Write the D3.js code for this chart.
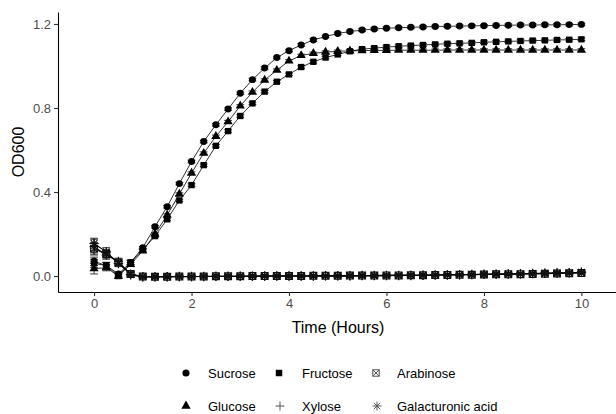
<!DOCTYPE html>
<html>
<head>
<meta charset="utf-8">
<script src="https://cdn.jsdelivr.net/npm/d3@7"></script>
<style>
  body { margin: 0; background: #fff; }
  text { font-family: "Liberation Sans", Arial, sans-serif; }
</style>
</head>
<body>
<svg id="vis" width="616" height="414"></svg>
<script>
// sampling times (hours)
const time = [0, 0.25, 0.5, 0.75, 1, 1.25, 1.5, 1.75, 2, 2.25, 2.5, 2.75, 3, 3.25, 3.5, 3.75,
  4, 4.25, 4.5, 4.75, 5, 5.25, 5.5, 5.75, 6, 6.25, 6.5, 6.75, 7, 7.25, 7.5, 7.75,
  8, 8.25, 8.5, 8.75, 9, 9.25, 9.5, 9.75, 10];

// OD600 per sugar
const sucrose = [0.07, 0.05, 0.01, 0.065, 0.135, 0.235, 0.33, 0.44, 0.545, 0.64, 0.72, 0.795, 0.87, 0.935, 0.99, 1.04,
  1.073, 1.10, 1.124, 1.14, 1.155, 1.164, 1.171, 1.176, 1.18, 1.182, 1.184, 1.186, 1.188, 1.189, 1.19, 1.191,
  1.192, 1.193, 1.194, 1.195, 1.195, 1.196, 1.196, 1.197, 1.198];
const fructose = [0.06, 0.05, 0.0, 0.065, 0.125, 0.19, 0.27, 0.36, 0.433, 0.528, 0.62, 0.69, 0.762, 0.822, 0.878, 0.925,
  0.96, 0.995, 1.02, 1.04, 1.055, 1.07, 1.08, 1.085, 1.09, 1.094, 1.097, 1.10, 1.103, 1.106, 1.108, 1.11,
  1.113, 1.115, 1.117, 1.119, 1.121, 1.122, 1.124, 1.125, 1.127];
const glucose = [0.035, 0.04, 0.0, 0.055, 0.12, 0.2, 0.29, 0.39, 0.49, 0.585, 0.665, 0.735, 0.81, 0.875, 0.933, 0.98,
  1.024, 1.05, 1.06, 1.066, 1.07, 1.072, 1.073, 1.074, 1.074, 1.075, 1.075, 1.075, 1.075, 1.076, 1.076, 1.076,
  1.076, 1.076, 1.076, 1.076, 1.076, 1.076, 1.076, 1.076, 1.076];
const arabinose = [0.13, 0.105, 0.065, 0.01, -0.002, -0.003, -0.003, -0.002, -0.002, -0.002, -0.001, -0.001, -0.001, 0, 0, 0,
  0, 0, 0.001, 0.001, 0.001, 0.002, 0.002, 0.002, 0.003, 0.003, 0.004, 0.004, 0.005, 0.005, 0.006, 0.006,
  0.007, 0.008, 0.008, 0.009, 0.01, 0.011, 0.012, 0.013, 0.014];
const xylose = [0.14, 0.1, 0.07, 0.005, -0.004, -0.004, -0.003, -0.003, -0.003, -0.002, -0.002, -0.002, -0.001, -0.001, -0.001, 0,
  0, 0, 0, 0.001, 0.001, 0.001, 0.002, 0.002, 0.003, 0.003, 0.004, 0.004, 0.005, 0.006, 0.006, 0.007,
  0.008, 0.009, 0.01, 0.011, 0.012, 0.013, 0.015, 0.016, 0.017];
const galacturonic = [0.155, 0.115, 0.06, 0.008, -0.003, -0.003, -0.003, -0.002, -0.002, -0.002, -0.001, -0.001, -0.001, -0.001, 0, 0,
  0, 0, 0, 0.001, 0.001, 0.001, 0.002, 0.002, 0.002, 0.003, 0.003, 0.004, 0.005, 0.005, 0.006, 0.007,
  0.008, 0.009, 0.01, 0.011, 0.012, 0.013, 0.014, 0.016, 0.018];

// standard deviations for the first four readings; later readings use sdLater
const sdSucrose = [0.02, 0.015, 0.01, 0.01];
const sdFructose = [0.02, 0.015, 0.01, 0.01];
const sdGlucose = [0.025, 0.015, 0.01, 0.01];
const sdArabinose = [0.03, 0.02, 0.015, 0.01];
const sdXylose = [0.035, 0.02, 0.015, 0.01];
const sdGalacturonic = [0.025, 0.02, 0.015, 0.01];
const sdLater = 0.006;

const legendNames = ['Sucrose', 'Fructose', 'Arabinose', 'Glucose', 'Xylose', 'Galacturonic acid'];
const xTicks = [0, 2, 4, 6, 8, 10];
const yTicks = [0, 0.4, 0.8, 1.2];

// custom stroke-only shapes
const symPlus = {
  draw(ctx, size) {
    const r = Math.sqrt(size) / 2;
    ctx.moveTo(-r, 0); ctx.lineTo(r, 0);
    ctx.moveTo(0, -r); ctx.lineTo(0, r);
  }
};
const symAsterisk = {
  draw(ctx, size) {
    const r = Math.sqrt(size) / 2;
    for (let a = 0; a < 4; a++) {
      const t = a * Math.PI / 4;
      ctx.moveTo(-r * Math.cos(t), -r * Math.sin(t));
      ctx.lineTo(r * Math.cos(t), r * Math.sin(t));
    }
  }
};
const symSquareCross = {
  draw(ctx, size) {
    const r = Math.sqrt(size) / 2;
    ctx.moveTo(-r, -r); ctx.lineTo(r, -r); ctx.lineTo(r, r); ctx.lineTo(-r, r); ctx.closePath();
    ctx.moveTo(-r, -r); ctx.lineTo(r, r);
    ctx.moveTo(r, -r); ctx.lineTo(-r, r);
  }
};

const series = [
  { name: 'Galacturonic acid', values: galacturonic, sd: sdGalacturonic, shape: symAsterisk, size: 90, fill: false },
  { name: 'Xylose', values: xylose, sd: sdXylose, shape: symPlus, size: 80, fill: false },
  { name: 'Arabinose', values: arabinose, sd: sdArabinose, shape: symSquareCross, size: 46, fill: false },
  { name: 'Fructose', values: fructose, sd: sdFructose, shape: d3.symbolSquare, size: 40, fill: true },
  { name: 'Glucose', values: glucose, sd: sdGlucose, shape: d3.symbolTriangle, size: 36, fill: true },
  { name: 'Sucrose', values: sucrose, sd: sdSucrose, shape: d3.symbolCircle, size: 38, fill: true }
];

const vis = d3.select('#vis');

const x = d3.scaleLinear().domain([-0.74, 10.71]).range([58, 616]);
const y = d3.scaleLinear().domain([-0.076, 1.257]).range([292, 12]);

// axes
const xAxis = vis.append('g')
  .attr('transform', 'translate(0,292)')
  .call(d3.axisBottom(x).tickValues(xTicks).tickSize(4).tickSizeOuter(0).tickPadding(3));
const yAxis = vis.append('g')
  .attr('transform', 'translate(58,0)')
  .call(d3.axisLeft(y).tickValues(yTicks).tickFormat(d3.format('.1f')).tickSize(4).tickSizeOuter(0).tickPadding(3));

[xAxis, yAxis].forEach(g => {
  g.select('.domain').attr('stroke', '#000').attr('stroke-width', 1.1);
  g.selectAll('.tick line').attr('stroke', '#333').attr('stroke-width', 1.1);
  g.selectAll('.tick text').attr('fill', '#4d4d4d').style('font-size', '13px')
    .style('font-family', '"Liberation Sans", Arial, sans-serif');
});

// axis titles
vis.append('text')
  .attr('x', 338).attr('y', 333)
  .attr('text-anchor', 'middle')
  .style('font-size', '16px')
  .text('Time (Hours)');
vis.append('text')
  .attr('transform', 'translate(24,152) rotate(-90)')
  .attr('text-anchor', 'middle')
  .style('font-size', '16px')
  .text('OD600');

const plot = vis.append('g');
const line = d3.line().x((d, i) => x(time[i])).y(d => y(d));
const sdAt = (s, i) => (i < s.sd.length ? s.sd[i] : sdLater);

// lines
series.forEach(s => {
  plot.append('path')
    .datum(s.values)
    .attr('d', line)
    .attr('fill', 'none')
    .attr('stroke', '#000')
    .attr('stroke-width', s.fill ? 0.8 : 1.1);
});

// error bars
const capHalf = (x(0.08) - x(0));
series.forEach(s => {
  const g = plot.append('g').attr('stroke', '#222').attr('stroke-width', 0.9);
  s.values.forEach((v, i) => {
    const e = sdAt(s, i);
    const cx = x(time[i]);
    g.append('line').attr('x1', cx).attr('x2', cx).attr('y1', y(v - e)).attr('y2', y(v + e));
    g.append('line').attr('x1', cx - capHalf).attr('x2', cx + capHalf).attr('y1', y(v + e)).attr('y2', y(v + e));
    g.append('line').attr('x1', cx - capHalf).attr('x2', cx + capHalf).attr('y1', y(v - e)).attr('y2', y(v - e));
  });
});

// points
series.forEach(s => {
  const sym = d3.symbol().type(s.shape).size(s.size);
  plot.append('g')
    .selectAll('path')
    .data(s.values)
    .enter()
    .append('path')
    .attr('transform', (d, i) => `translate(${x(time[i])},${y(d)})`)
    .attr('d', sym)
    .attr('fill', s.fill ? '#000' : 'none')
    .attr('stroke', s.fill ? 'none' : '#111')
    .attr('stroke-width', 1.2);
});

// legend
const legendPos = [
  { sx: 186, tx: 208, cy: 373 }, { sx: 279, tx: 302, cy: 373 }, { sx: 376, tx: 397, cy: 373 },
  { sx: 186, tx: 208, cy: 406 }, { sx: 280, tx: 302, cy: 406 }, { sx: 377, tx: 397, cy: 406 }
];
const legend = vis.append('g');
legendNames.forEach((name, i) => {
  const s = series.find(d => d.name === name);
  const p = legendPos[i];
  const size = s.fill ? s.size * 1.05 : (s.shape === symSquareCross ? 42 : 80);
  legend.append('path')
    .attr('transform', `translate(${p.sx},${p.cy})`)
    .attr('d', d3.symbol().type(s.shape).size(size))
    .attr('fill', s.fill ? '#000' : 'none')
    .attr('stroke', s.fill ? 'none' : '#555')
    .attr('stroke-width', 1);
  legend.append('text')
    .attr('x', p.tx).attr('y', p.cy)
    .attr('dy', '0.36em')
    .style('font-size', '13px')
    .text(name);
});
</script>
</body>
</html>
